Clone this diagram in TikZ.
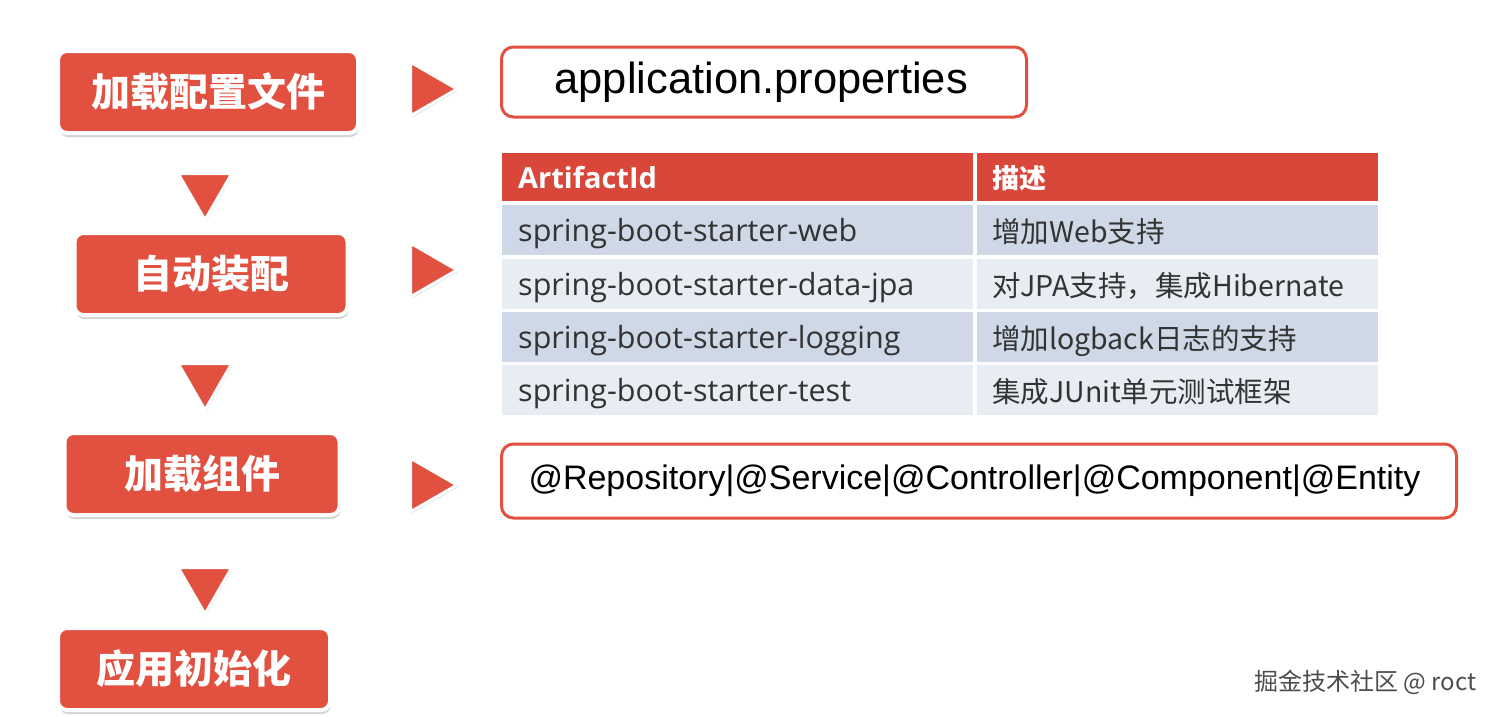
\documentclass[tikz,border=0pt]{standalone}
\usepackage{fontspec}
\setmainfont{Noto Sans CJK SC}
\newfontfamily\notefont{Liberation Sans}
\newfontfamily\cellfont{Open Sans}
\usetikzlibrary{shapes.geometric,shadows,calc}
\definecolor{boxred}{HTML}{E2503F}
\definecolor{headred}{HTML}{D9473A}
\definecolor{rowdark}{HTML}{CFD8E6}
\definecolor{rowlight}{HTML}{E8ECF3}
\tikzset{
  stage/.style={rectangle, rounded corners=9pt, fill=boxred, draw=white, line width=4pt,
    drop shadow={opacity=0.35, shadow xshift=1pt, shadow yshift=-4pt},
    text=white, font=\fontsize{39}{42}\selectfont\bfseries, minimum height=82pt},
  note/.style={rectangle, rounded corners=12pt, draw=boxred, line width=3pt, fill=white,
    anchor=west, minimum height=70pt, inner xsep=0pt, align=left},
  tri/.style={regular polygon, regular polygon sides=3, fill=boxred, draw=white, line width=3pt,
    minimum size=62pt, inner sep=0pt,
    drop shadow={opacity=0.25, shadow xshift=1pt, shadow yshift=-2pt}},
  cell/.style={rectangle, anchor=west, minimum height=49pt, inner sep=0pt, text depth=0pt,
    font=\fontsize{28.5}{30}\selectfont, text=black!80},
}
\begin{document}
\begin{tikzpicture}[x=1pt,y=-1pt]
\useasboundingbox (0,0) rectangle (1500,716);

% steps on the left
\node [stage, minimum width=300pt] (load) at (208,92)  {加载配置文件};
\node [stage, minimum width=273pt] (auto) at (211,274) {自动装配};
\node [stage, minimum width=275pt] (comp) at (202,474) {加载组件};
\node [stage, minimum width=272pt] (init) at (194,669) {应用初始化};

% down triangles
\node [tri, shape border rotate=180] (d1) at (205,189) {};
\node [tri, shape border rotate=180] (d2) at (205,379) {};
\node [tri, shape border rotate=180] (d3) at (205,583) {};

% right triangles
\node [tri, shape border rotate=-90] (r1) at (426,89)  {};
\node [tri, shape border rotate=-90] (r2) at (426,270) {};
\node [tri, shape border rotate=-90] (r3) at (426,485) {};

% notes
\node [note, text width=525pt, font=\notefont\fontsize{43.5}{46}\selectfont] (props) at (500,82)
  {\hspace{53pt}application.properties};
\node [note, text width=955pt, minimum height=74pt, font=\notefont\fontsize{34}{38}\selectfont] (annot) at (500,481)
  {\hspace{27pt}@Repository|@Service|@Controller|@Component|@Entity};

% table
\fill [headred] (502,153) rectangle (1378,201);
\node [cell, text=white, font=\cellfont\fontsize{29}{30}\selectfont\bfseries] (hA) at (518,177) {ArtifactId};
\node [cell, text=white, font=\fontsize{27}{30}\selectfont\bfseries] (hB) at (992,177) {描述};
\foreach \y/\c/\a/\b [count=\i] in {
  230/rowdark/spring-boot-starter-web/增加Web支持,
  284/rowlight/spring-boot-starter-data-jpa/{对JPA支持，集成Hibernate},
  337/rowdark/spring-boot-starter-logging/增加logback日志的支持,
  390/rowlight/spring-boot-starter-test/集成JUnit单元测试框架} {
  \fill [\c] (502,\y-25) rectangle (1378,\y+25);
  \node [cell, font=\cellfont\fontsize{30.5}{32}\selectfont] (a\i) at (518,\y) {\a};
  \node [cell] (b\i) at (992,\y) {\b};
}
\fill [white] (973,153) rectangle (977,415);

% watermark
\node [anchor=east, font=\fontsize{24}{28}\selectfont, text=black!70] (mark) at (1480,682) {掘金技术社区 @ roct};
\end{tikzpicture}
\end{document}
